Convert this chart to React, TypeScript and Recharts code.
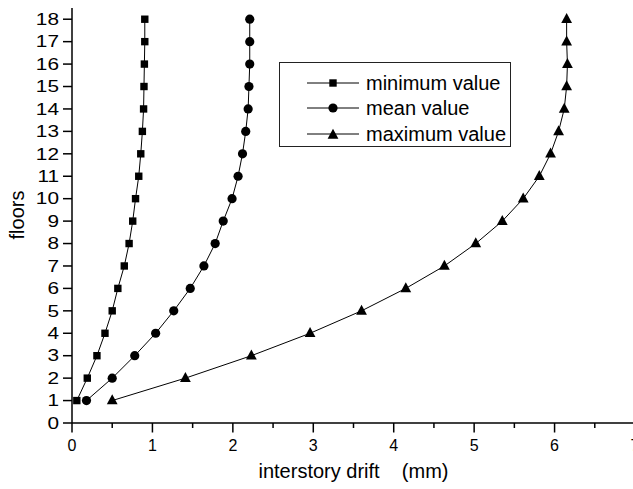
import { ScatterChart, Scatter, XAxis, YAxis, Legend } from 'recharts';

const FLOORS = [1, 2, 3, 4, 5, 6, 7, 8, 9, 10, 11, 12, 13, 14, 15, 16, 17, 18];
const MIN_DRIFT = [0.06, 0.19, 0.31, 0.41, 0.5, 0.57, 0.65, 0.71, 0.755, 0.79, 0.83, 0.855, 0.875, 0.89, 0.895, 0.9, 0.905, 0.905];
const MEAN_DRIFT = [0.18, 0.5, 0.78, 1.04, 1.265, 1.47, 1.64, 1.78, 1.88, 1.99, 2.065, 2.12, 2.16, 2.19, 2.2, 2.21, 2.21, 2.21];
const MAX_DRIFT = [0.5, 1.41, 2.23, 2.96, 3.6, 4.15, 4.63, 5.02, 5.35, 5.61, 5.81, 5.95, 6.05, 6.12, 6.15, 6.16, 6.15, 6.15];
const SERIES_NAMES = ['minimum value', 'mean value', 'maximum value'];
const X_TICKS = [0, 0.5, 1, 1.5, 2, 2.5, 3, 3.5, 4, 4.5, 5, 5.5, 6, 6.5, 7];
const Y_TICKS = [0, 1, 2, 3, 4, 5, 6, 7, 8, 9, 10, 11, 12, 13, 14, 15, 16, 17, 18];

const FONT = '"Liberation Sans", Arial, sans-serif';
const INK = '#000';

const toPoints = (vals: number[]) => vals.map((v, i) => ({ x: v, y: FLOORS[i] }));

const minData = toPoints(MIN_DRIFT);
const meanData = toPoints(MEAN_DRIFT);
const maxData = toPoints(MAX_DRIFT);

function Square({ cx, cy }: any) {
  return <rect x={cx - 3.7} y={cy - 3.7} width={7.4} height={7.4} fill={INK} />;
}

function Dot({ cx, cy }: any) {
  return <circle cx={cx} cy={cy} r={4.6} fill={INK} />;
}

function Tri({ cx, cy }: any) {
  return (
    <polygon
      points={`${cx},${cy - 6.2} ${cx + 5.4},${cy + 3.8} ${cx - 5.4},${cy + 3.8}`}
      fill={INK}
    />
  );
}

const MARKERS = [Square, Dot, Tri];

// x ticks: long tick + label on integers, short tick on halves
function XTick(props: any) {
  const { x, y, payload } = props;
  const axisY = y - 17;
  const major = Number.isInteger(payload.value);
  return (
    <g>
      <line x1={x} x2={x} y1={axisY} y2={axisY + (major ? 9.5 : 5)} stroke={INK} strokeWidth={1.5} />
      {major && (
        <text x={x} y={y} dy="0.71em" textAnchor="middle" fontSize={16} fontFamily={FONT} fill={INK}>
          {payload.value}
        </text>
      )}
    </g>
  );
}

function YTick(props: any) {
  const { x, y, payload } = props;
  return (
    <text
      x={x}
      y={y}
      dy="0.36em"
      textAnchor="end"
      fontSize={16}
      fontFamily={FONT}
      fill={INK}
      transform={`translate(${x},0) scale(1.3,1) translate(${-x},0)`}
    >
      {payload.value}
    </text>
  );
}

function LegendBox() {
  return (
    <div
      style={{
        boxSizing: 'border-box',
        width: 232,
        height: 85,
        border: '1px solid #222',
        background: '#fff',
        paddingTop: 7,
        paddingLeft: 26,
        fontFamily: FONT,
        fontSize: 20,
        color: INK,
      }}
    >
      {SERIES_NAMES.map((name, i) => {
        const M = MARKERS[i];
        return (
          <div key={name} style={{ display: 'flex', alignItems: 'center', height: 25.5 }}>
            <svg width={60} height={20} style={{ display: 'block' }}>
              <line x1={1} x2={53} y1={10} y2={10} stroke={INK} strokeWidth={1} />
              <M cx={27} cy={i === 2 ? 11 : 10} />
            </svg>
            <span style={{ lineHeight: '20px' }}>{name}</span>
          </div>
        );
      })}
    </div>
  );
}

export default function App() {
  return (
    <div style={{ width: 633, height: 489, overflow: 'hidden', position: 'relative' }}>
      <style>{'body{margin:0;overflow:hidden;background:#fff}'}</style>
      <ScatterChart width={640} height={489} margin={{ top: 8, right: 5, left: 0, bottom: 0 }}>
        <XAxis
          type="number"
          dataKey="x"
          domain={[0, 7]}
          ticks={X_TICKS}
          interval={0}
          allowDataOverflow
          height={66}
          tickSize={9}
          tickMargin={8}
          tickLine={false}
          tick={<XTick />}
          axisLine={{ stroke: INK, strokeWidth: 1.5 }}
          label={{
            value: 'interstory drift\u00A0\u00A0\u00A0\u00A0(mm)',
            position: 'insideBottom',
            offset: 11,
            fontSize: 20,
            fontFamily: FONT,
            fill: INK,
          }}
        />
        <YAxis
          type="number"
          dataKey="y"
          domain={[0, 18.5]}
          ticks={Y_TICKS}
          interval={0}
          allowDataOverflow
          width={72}
          tickSize={9}
          tickMargin={4}
          tick={<YTick />}
          tickLine={{ stroke: INK, strokeWidth: 1.5 }}
          axisLine={{ stroke: INK, strokeWidth: 1.5 }}
          label={{
            content: () => (
              <text
                x={17}
                y={215}
                textAnchor="middle"
                dominantBaseline="central"
                fontSize={20}
                fontFamily={FONT}
                fill={INK}
                transform="rotate(-90 17 215)"
              >
                floors
              </text>
            ),
          }}
        />
        <Legend
          layout="vertical"
          align="center"
          verticalAlign="middle"
          content={() => <LegendBox />}
          wrapperStyle={{ left: 279, top: 62, width: 232 }}
        />
        <Scatter
          name={SERIES_NAMES[0]}
          data={minData}
          line={{ stroke: INK, strokeWidth: 1 }}
          lineType="joint"
          shape={<Square />}
          isAnimationActive={false}
        />
        <Scatter
          name={SERIES_NAMES[1]}
          data={meanData}
          line={{ stroke: INK, strokeWidth: 1 }}
          lineType="joint"
          shape={<Dot />}
          isAnimationActive={false}
        />
        <Scatter
          name={SERIES_NAMES[2]}
          data={maxData}
          line={{ stroke: INK, strokeWidth: 1 }}
          lineType="joint"
          shape={<Tri />}
          isAnimationActive={false}
        />
      </ScatterChart>
    </div>
  );
}
